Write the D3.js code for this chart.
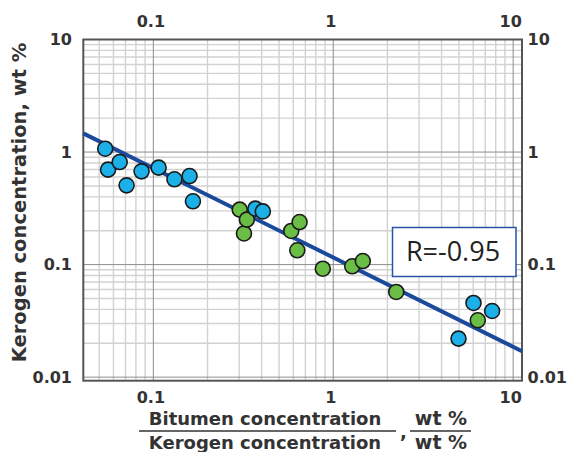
<!DOCTYPE html>
<html lang="en">
    <head>
        <title>Kerogen vs bitumen ratio</title>
        <script src="https://d3js.org/d3.v7.min.js"></script>
        <style>
            body { margin: 0; background: #fff; }
        </style>
    </head>
    <body>
    <div id="mainDiv"></div>
        <script type="text/javascript">
            // values
            const blueX = [0.054, 0.065, 0.056, 0.071, 0.086, 0.107, 0.131, 0.159, 0.166, 0.369, 0.406, 6.02, 7.64, 4.97]
            const blueY = [1.07, 0.815, 0.698, 0.506, 0.674, 0.727, 0.573, 0.612, 0.365, 0.314, 0.297, 0.0456, 0.0387, 0.022]
            const greenX = [0.302, 0.331, 0.319, 0.650, 0.584, 0.631, 0.875, 1.275, 1.46, 2.24, 6.36]
            const greenY = [0.308, 0.251, 0.189, 0.239, 0.199, 0.134, 0.092, 0.0966, 0.1076, 0.0571, 0.032]
            const fitX = [0.0408, 11.2]
            const fitY = [1.466, 0.017]
            const tickValues = [0.01, 0.1, 1, 10]
            const tickLabels = ['0.01', '0.1', '1', '10']
            const rLabel = 'R=-0.95'

            const width = 568
            const height = 452
            const margins = { top: 39.5, bottom: 71.3, left: 83.3, right: 46 }
            const bounded = {
                width: width - margins.left - margins.right,
                height: height - margins.top - margins.bottom
            }

            const svg = d3.select('#mainDiv').append('svg')
                .attr('width', width)
                .attr('height', height)
                .style('font-family', '"DejaVu Sans", Verdana, sans-serif')

            const group = svg.append('g')
                .attr('transform', `translate(${margins.left}, ${margins.top})`)

            const xScale = d3.scaleLog().domain([0.0408, 11.2]).range([0, bounded.width])
            const yScale = d3.scaleLog().domain([0.0093, 10]).range([bounded.height, 0])

            // grid lines: every 1..9 of each decade
            const gridVals = []
            for (const dec of [0.001, 0.01, 0.1, 1, 10]) {
                for (let m = 1; m <= 9; m++) gridVals.push(+(dec * m).toPrecision(3))
            }
            const xGrid = gridVals.filter(v => v >= xScale.domain()[0] && v <= xScale.domain()[1])
            const yGrid = gridVals.filter(v => v >= yScale.domain()[0] && v <= yScale.domain()[1])
            const isMajor = v => tickValues.includes(v)

            group.append('g').selectAll('line')
                .data(xGrid.filter(v => !isMajor(v)))
                .join('line')
                .attr('x1', d => xScale(d)).attr('x2', d => xScale(d))
                .attr('y1', 0).attr('y2', bounded.height)
                .attr('stroke', '#d2d2d2').attr('stroke-width', 1.4)
            group.append('g').selectAll('line')
                .data(yGrid.filter(v => !isMajor(v)))
                .join('line')
                .attr('y1', d => yScale(d)).attr('y2', d => yScale(d))
                .attr('x1', 0).attr('x2', bounded.width)
                .attr('stroke', '#d2d2d2').attr('stroke-width', 1.4)
            group.append('g').selectAll('line')
                .data(xGrid.filter(isMajor))
                .join('line')
                .attr('x1', d => xScale(d)).attr('x2', d => xScale(d))
                .attr('y1', 0).attr('y2', bounded.height)
                .attr('stroke', '#8c8c8c').attr('stroke-width', 1)
            group.append('g').selectAll('line')
                .data(yGrid.filter(isMajor))
                .join('line')
                .attr('y1', d => yScale(d)).attr('y2', d => yScale(d))
                .attr('x1', 0).attr('x2', bounded.width)
                .attr('stroke', '#8c8c8c').attr('stroke-width', 1)

            // frame
            group.append('rect')
                .attr('width', bounded.width).attr('height', bounded.height)
                .attr('fill', 'none').attr('stroke', '#555').attr('stroke-width', 2)

            // regression line
            const fit = fitX.map((x, i) => [x, fitY[i]])
            group.append('path')
                .datum(fit)
                .attr('d', d3.line().x(d => xScale(d[0])).y(d => yScale(d[1])))
                .attr('stroke', '#1b4a9c').attr('stroke-width', 4).attr('fill', 'none')

            // points, drawn in x order
            const points = blueX.map((x, i) => ({ x, y: blueY[i], c: '#1cb0e8' }))
                .concat(greenX.map((x, i) => ({ x, y: greenY[i], c: '#6abd45' })))
                .sort((a, b) => a.x - b.x)
            group.append('g').selectAll('circle')
                .data(points)
                .join('circle')
                .attr('cx', d => xScale(d.x))
                .attr('cy', d => yScale(d.y))
                .attr('r', 7.5)
                .attr('fill', d => d.c)
                .attr('stroke', '#1a1a1a').attr('stroke-width', 1.6)

            // axes (labels only)
            const fmt = d => tickLabels[tickValues.indexOf(d)]
            const xTicks = tickValues.filter(v => v >= 0.1)
            const styleAxis = (g) => {
                g.attr('font-family', null)
                g.select('.domain').remove()
                g.selectAll('text')
                    .style('font-size', '16px').style('font-weight', 'bold')
                    .attr('fill', '#333')
            }
            group.append('g')
                .attr('transform', `translate(0, ${bounded.height})`)
                .call(d3.axisBottom(xScale).tickValues(xTicks).tickFormat(fmt).tickSize(0).tickPadding(10.5))
                .call(styleAxis)
                .selectAll('text').attr('dx', -3)
            group.append('g')
                .call(d3.axisTop(xScale).tickValues(xTicks).tickFormat(fmt).tickSize(0).tickPadding(12.5))
                .call(styleAxis)
                .selectAll('text').attr('dx', -3)
            group.append('g')
                .call(d3.axisLeft(yScale).tickValues(tickValues).tickFormat(fmt).tickSize(0).tickPadding(11.3))
                .call(styleAxis)
            group.append('g')
                .attr('transform', `translate(${bounded.width}, 0)`)
                .call(d3.axisRight(yScale).tickValues(tickValues).tickFormat(fmt).tickSize(0).tickPadding(5.5))
                .call(styleAxis)

            // R annotation
            svg.append('rect')
                .attr('x', 392.5).attr('y', 227.5).attr('width', 123.5).attr('height', 49)
                .attr('fill', '#fff').attr('stroke', '#2a52a8').attr('stroke-width', 1.5)
            svg.append('text')
                .attr('x', 453).attr('y', 261)
                .attr('text-anchor', 'middle')
                .style('font-family', '"Open Sans", sans-serif')
                .style('font-size', '27px')
                .attr('fill', '#222')
                .text(rLabel)

            // y title
            svg.append('text')
                .attr('transform', 'translate(26, 202.5) rotate(-90)')
                .attr('text-anchor', 'middle')
                .style('font-size', '19.5px').style('font-weight', 'bold')
                .attr('fill', '#333')
                .text('Kerogen concentration, wt %')

            // x title as a fraction
            const xTitle = svg.append('g')
                .style('font-weight', 'bold').attr('fill', '#333')
            xTitle.append('text').attr('x', 265).attr('y', 425)
                .attr('text-anchor', 'middle').style('font-size', '18px')
                .text('Bitumen concentration')
            xTitle.append('line').attr('x1', 139).attr('x2', 396).attr('y1', 431).attr('y2', 431)
                .attr('stroke', '#333').attr('stroke-width', 1.6)
            xTitle.append('text').attr('x', 265).attr('y', 449)
                .attr('text-anchor', 'middle').style('font-size', '18px')
                .text('Kerogen concentration')
            xTitle.append('text').attr('x', 400).attr('y', 438)
                .style('font-size', '18px').text(',')
            xTitle.append('text').attr('x', 441).attr('y', 425)
                .attr('text-anchor', 'middle').style('font-size', '19px')
                .text('wt %')
            xTitle.append('line').attr('x1', 410).attr('x2', 471).attr('y1', 431).attr('y2', 431)
                .attr('stroke', '#333').attr('stroke-width', 1.6)
            xTitle.append('text').attr('x', 441).attr('y', 449)
                .attr('text-anchor', 'middle').style('font-size', '19px')
                .text('wt %')
        </script>
    </body>
</html>
